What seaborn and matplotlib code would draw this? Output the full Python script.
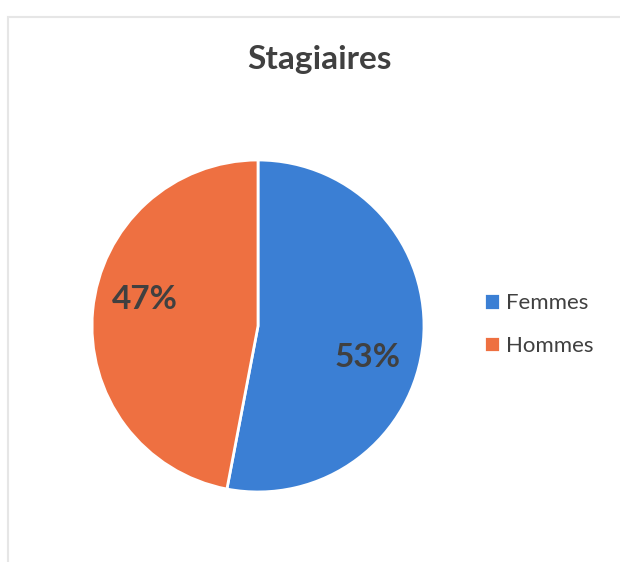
import matplotlib
matplotlib.use("Agg")
import matplotlib.pyplot as plt
import seaborn as sns
from matplotlib.patches import Rectangle

# Données du graphique
categories = ["Femmes", "Hommes"]
valeurs = [53, 47]
couleurs = ["#3B7FD4", "#EE7041"]
titre = "Stagiaires"

sns.set_theme(style="white")
plt.rcParams["font.family"] = ["Lato", "DejaVu Sans"]

fig = plt.figure(figsize=(6.2, 5.62), dpi=100)
fig.patch.set_facecolor("white")

# cadre gris clair du graphique (scan)
fig.patches.append(Rectangle((8 / 620, -0.05), 1.1, (562 - 17) / 562 + 0.05,
                             transform=fig.transFigure, fill=False,
                             edgecolor="#E6E6E6", linewidth=1.5))

ax = fig.add_axes([0.1484, 0.1246, 0.5355, 0.5907])
palette = sns.color_palette(couleurs)
wedges, texts, autotexts = ax.pie(
    valeurs, colors=palette, startangle=90, counterclock=False,
    autopct="%1.0f%%", pctdistance=0.7,
    wedgeprops=dict(edgecolor="white", linewidth=2),
    textprops=dict(fontsize=24, fontweight="bold", color="#404040"))

# positions des étiquettes comme dans Excel
autotexts[0].set_position((0.66, -0.19))
autotexts[1].set_position((-0.68, 0.16))

ax.set_xlim(-1, 1)
ax.set_ylim(-1, 1)
ax.set_aspect("equal")
ax.axis("off")

fig.text(0.516, 0.895, titre, ha="center", va="center", fontsize=24,
         fontweight="bold", color="#404040")

leg = fig.legend(wedges, categories, loc="center left",
                 bbox_to_anchor=(0.748, 0.4226), frameon=False,
                 fontsize=16, handlelength=0.75, handleheight=0.75,
                 handletextpad=0.25, labelspacing=1.0)
for t in leg.get_texts():
    t.set_color("#404040")

fig.savefig("out.png", dpi=100)
